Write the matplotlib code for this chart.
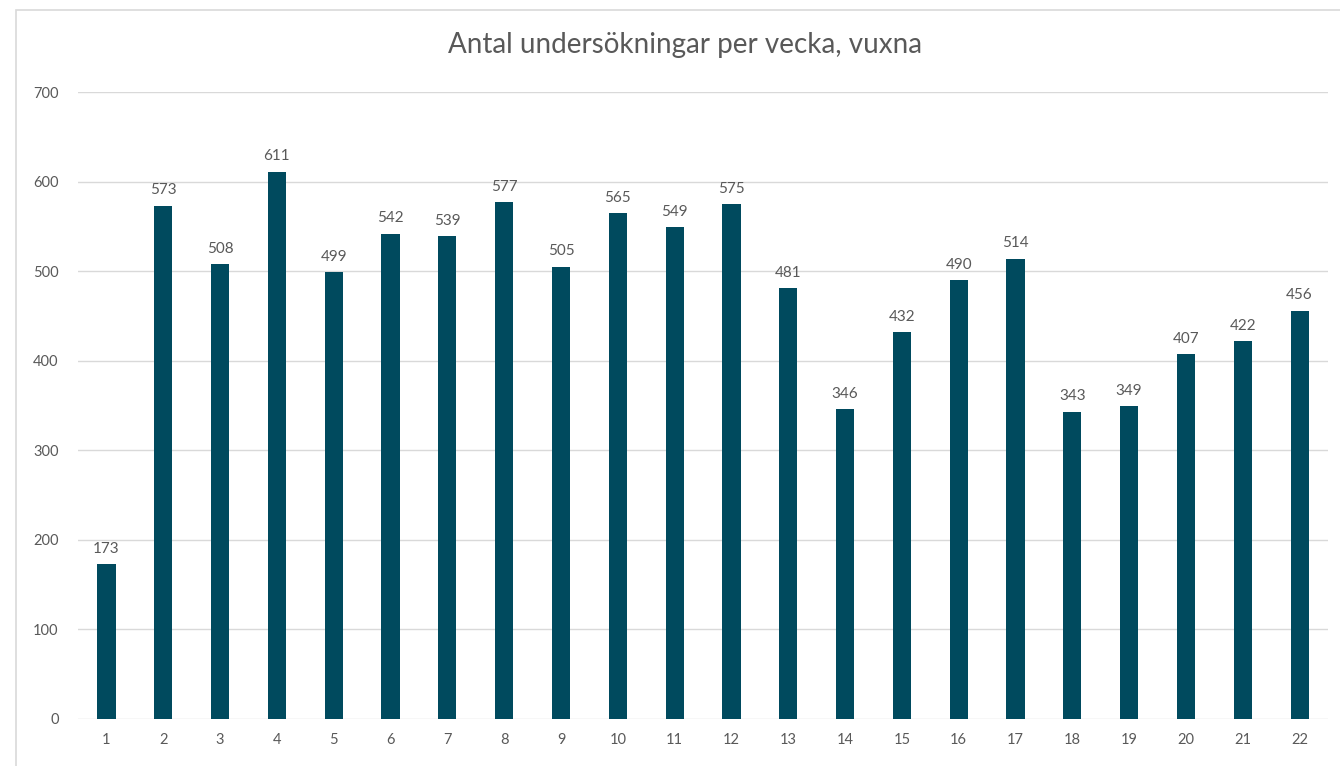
import matplotlib.pyplot as plt
from matplotlib.patches import Rectangle

weeks = list(range(1, 23))
counts = [173, 573, 508, 611, 499, 542, 539, 577, 505, 565, 549,
          575, 481, 346, 432, 490, 514, 343, 349, 407, 422, 456]

bar_color = '#004A5E'
text_color = '#595959'
grid_color = '#D9D9D9'

plt.rcParams['font.family'] = ['Lato', 'DejaVu Sans']

fig = plt.figure(figsize=(13.4, 7.66), dpi=100)
ax = fig.add_axes([78 / 1340, 47 / 766, 1250 / 1340, 627 / 766])

# thin frame round the chart area, like the spreadsheet export
fig.patches.append(Rectangle((16 / 1340, -0.01), 1.0, 1 - 10 / 766 + 0.01,
                             transform=fig.transFigure, fill=False,
                             edgecolor='#D9D9D9', linewidth=1.2))

bars = ax.bar(weeks, counts, width=0.32, color=bar_color, zorder=3)
for b, v in zip(bars, counts):
    ax.annotate(str(v), (b.get_x() + b.get_width() / 2, v),
                xytext=(0, 6), textcoords='offset points',
                ha='center', va='bottom', fontsize=11, color=text_color)

ax.set_xlim(0.5, 22.5)
ax.set_ylim(0, 700)
ax.set_yticks(range(0, 701, 100))
ax.set_xticks(weeks)
ax.yaxis.grid(True, color=grid_color, linewidth=1, zorder=0)
ax.tick_params(axis='both', length=0, colors=text_color, labelsize=10.5)
ax.tick_params(axis='x', pad=10)
ax.tick_params(axis='y', pad=14)
for s in ax.spines.values():
    s.set_visible(False)

fig.text(685 / 1340, 1 - 45 / 766, 'Antal undersökningar per vecka, vuxna',
         ha='center', va='center', fontsize=20, color=text_color)

fig.savefig('out.png', dpi=100)
